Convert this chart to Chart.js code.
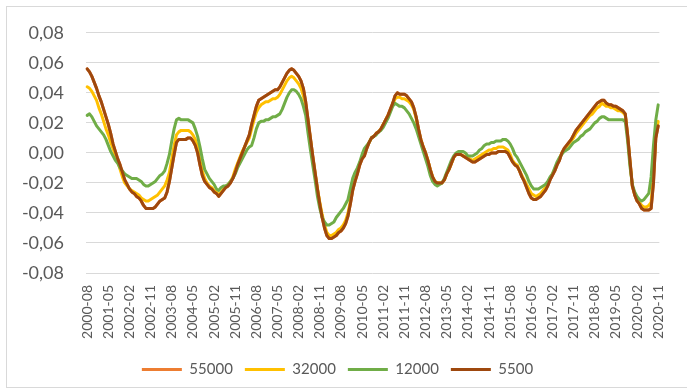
<!DOCTYPE html>
<html>
<head>
<meta charset="utf-8">
<script src="https://cdn.jsdelivr.net/npm/chart.js@4"></script>
<style>
  html, body { margin: 0; padding: 0; background: #ffffff; }
  #wrap { width: 687px; height: 390px; position: relative; }
</style>
</head>
<body>
<div id="wrap"><canvas id="c" width="687" height="390"></canvas></div>
<script>
// Monthly categories, 2000-08 .. 2020-11
const firstYear = 2000, firstMonth = 8, monthCount = 244;
const months = [];
for (let k = 0; k < monthCount; k++) {
  const m = firstMonth - 1 + k;
  const y = firstYear + Math.floor(m / 12);
  const mm = (m % 12) + 1;
  months.push(y + '-' + (mm < 10 ? '0' + mm : mm));
}

// Category labels printed on the horizontal axis (every 9 months)
const tickLabels = [
  '2000-08','2001-05','2002-02','2002-11','2003-08','2004-05','2005-02',
  '2005-11','2006-08','2007-05','2008-02','2008-11','2009-08','2010-05',
  '2011-02','2011-11','2012-08','2013-05','2014-02','2014-11','2015-08',
  '2016-05','2017-02','2017-11','2018-08','2019-05','2020-02','2020-11'
];

// Value axis
const yMin = -0.08, yMax = 0.08, yStep = 0.02;

const seriesNames = ['55000', '32000', '12000', '5500'];
const seriesColors = ['#ED7D31', '#FFC000', '#70AD47', '#9E480E'];

const s55000 = [
  0.056, 0.054, 0.051, 0.047, 0.043, 0.038, 0.034, 0.029, 0.024, 0.019,
  0.013, 0.006, 0.001, -0.004, -0.008, -0.013, -0.018, -0.021, -0.024, -0.026,
  -0.027, -0.029, -0.030, -0.032, -0.035, -0.037, -0.037, -0.037, -0.037, -0.036,
  -0.034, -0.032, -0.031, -0.030, -0.026, -0.019, -0.010, -0.001, 0.007, 0.009,
  0.009, 0.009, 0.009, 0.010, 0.010, 0.008, 0.005, 0.000, -0.008, -0.015,
  -0.019, -0.021, -0.023, -0.024, -0.026, -0.027, -0.029, -0.027, -0.025, -0.023,
  -0.022, -0.020, -0.017, -0.013, -0.008, -0.004, 0.000, 0.004, 0.008, 0.012,
  0.019, 0.025, 0.031, 0.035, 0.036, 0.037, 0.038, 0.039, 0.040, 0.041,
  0.042, 0.042, 0.044, 0.047, 0.050, 0.053, 0.055, 0.056, 0.055, 0.053,
  0.051, 0.048, 0.043, 0.034, 0.022, 0.010, -0.002, -0.013, -0.024, -0.034,
  -0.043, -0.050, -0.055, -0.057, -0.057, -0.056, -0.055, -0.053, -0.052, -0.050,
  -0.047, -0.042, -0.034, -0.025, -0.019, -0.014, -0.008, -0.004, -0.002, 0.003,
  0.007, 0.010, 0.011, 0.013, 0.014, 0.016, 0.019, 0.022, 0.025, 0.029,
  0.033, 0.038, 0.040, 0.039, 0.039, 0.039, 0.038, 0.036, 0.034, 0.030,
  0.024, 0.016, 0.009, 0.004, 0.000, -0.005, -0.011, -0.016, -0.019, -0.020,
  -0.020, -0.020, -0.018, -0.014, -0.011, -0.007, -0.003, -0.001, -0.001, -0.001,
  -0.002, -0.003, -0.004, -0.005, -0.006, -0.006, -0.005, -0.004, -0.003, -0.002,
  -0.001, -0.001, 0.000, 0.000, 0.000, 0.001, 0.001, 0.001, 0.001, 0.000,
  -0.003, -0.006, -0.008, -0.009, -0.012, -0.016, -0.019, -0.023, -0.027, -0.030,
  -0.031, -0.031, -0.030, -0.029, -0.027, -0.025, -0.022, -0.018, -0.015, -0.012,
  -0.008, -0.005, 0.000, 0.003, 0.005, 0.007, 0.009, 0.012, 0.015, 0.017,
  0.019, 0.021, 0.023, 0.025, 0.027, 0.029, 0.031, 0.033, 0.034, 0.035,
  0.035, 0.033, 0.032, 0.032, 0.031, 0.031, 0.030, 0.029, 0.028, 0.026,
  0.012, -0.005, -0.022, -0.028, -0.032, -0.034, -0.037, -0.038, -0.038, -0.038,
  -0.037, -0.020, 0.010, 0.018
];

const s32000 = [
  0.044, 0.043, 0.041, 0.038, 0.035, 0.030, 0.026, 0.021, 0.016, 0.012,
  0.007, 0.003, -0.002, -0.006, -0.011, -0.016, -0.020, -0.022, -0.024, -0.025,
  -0.026, -0.027, -0.028, -0.030, -0.031, -0.032, -0.032, -0.031, -0.030, -0.029,
  -0.028, -0.026, -0.024, -0.022, -0.018, -0.013, -0.004, 0.005, 0.012, 0.014,
  0.015, 0.015, 0.015, 0.015, 0.014, 0.012, 0.009, 0.004, -0.005, -0.012,
  -0.017, -0.020, -0.022, -0.023, -0.025, -0.026, -0.028, -0.026, -0.024, -0.022,
  -0.021, -0.019, -0.016, -0.011, -0.007, -0.003, 0.001, 0.004, 0.007, 0.010,
  0.016, 0.022, 0.027, 0.030, 0.032, 0.033, 0.034, 0.034, 0.035, 0.036,
  0.036, 0.037, 0.039, 0.042, 0.045, 0.048, 0.050, 0.051, 0.050, 0.048,
  0.046, 0.043, 0.038, 0.032, 0.021, 0.009, -0.003, -0.014, -0.024, -0.033,
  -0.041, -0.048, -0.053, -0.055, -0.055, -0.054, -0.053, -0.051, -0.050, -0.048,
  -0.045, -0.040, -0.032, -0.024, -0.018, -0.013, -0.007, -0.003, -0.001, 0.004,
  0.007, 0.010, 0.011, 0.013, 0.014, 0.016, 0.019, 0.022, 0.025, 0.028,
  0.032, 0.036, 0.037, 0.037, 0.036, 0.036, 0.035, 0.034, 0.032, 0.029,
  0.023, 0.015, 0.009, 0.004, 0.000, -0.005, -0.011, -0.016, -0.019, -0.020,
  -0.020, -0.020, -0.018, -0.014, -0.011, -0.007, -0.003, -0.001, -0.001, -0.001,
  -0.002, -0.002, -0.003, -0.004, -0.005, -0.004, -0.003, -0.002, -0.001, 0.000,
  0.001, 0.002, 0.002, 0.003, 0.003, 0.004, 0.004, 0.004, 0.003, 0.002,
  -0.001, -0.005, -0.007, -0.008, -0.012, -0.015, -0.018, -0.021, -0.024, -0.027,
  -0.028, -0.029, -0.028, -0.027, -0.025, -0.023, -0.020, -0.017, -0.014, -0.011,
  -0.007, -0.004, 0.000, 0.002, 0.004, 0.006, 0.008, 0.010, 0.013, 0.015,
  0.017, 0.019, 0.021, 0.023, 0.025, 0.026, 0.028, 0.030, 0.031, 0.033,
  0.032, 0.031, 0.031, 0.030, 0.030, 0.029, 0.028, 0.028, 0.027, 0.025,
  0.011, -0.006, -0.022, -0.027, -0.031, -0.033, -0.035, -0.036, -0.036, -0.035,
  -0.033, -0.014, 0.012, 0.021
];

const s12000 = [
  0.025, 0.026, 0.024, 0.021, 0.018, 0.016, 0.014, 0.012, 0.009, 0.005,
  0.001, -0.002, -0.005, -0.007, -0.010, -0.012, -0.014, -0.015, -0.016, -0.017,
  -0.017, -0.017, -0.018, -0.019, -0.021, -0.022, -0.022, -0.021, -0.020, -0.019,
  -0.017, -0.015, -0.014, -0.012, -0.007, -0.001, 0.008, 0.016, 0.022, 0.023,
  0.022, 0.022, 0.022, 0.022, 0.021, 0.020, 0.016, 0.011, 0.004, -0.004,
  -0.011, -0.014, -0.017, -0.019, -0.021, -0.024, -0.025, -0.023, -0.022, -0.022,
  -0.021, -0.019, -0.017, -0.014, -0.010, -0.007, -0.004, -0.001, 0.002, 0.004,
  0.005, 0.010, 0.016, 0.020, 0.021, 0.021, 0.022, 0.022, 0.023, 0.024,
  0.024, 0.025, 0.026, 0.029, 0.033, 0.037, 0.040, 0.042, 0.042, 0.041,
  0.039, 0.036, 0.031, 0.025, 0.013, 0.002, -0.008, -0.018, -0.029, -0.037,
  -0.043, -0.046, -0.048, -0.048, -0.047, -0.046, -0.043, -0.041, -0.039, -0.037,
  -0.034, -0.031, -0.024, -0.017, -0.013, -0.010, -0.006, -0.001, 0.003, 0.005,
  0.007, 0.010, 0.011, 0.012, 0.014, 0.015, 0.017, 0.020, 0.023, 0.027,
  0.031, 0.033, 0.032, 0.031, 0.031, 0.030, 0.028, 0.026, 0.023, 0.020,
  0.016, 0.011, 0.006, 0.001, -0.004, -0.009, -0.015, -0.019, -0.021, -0.022,
  -0.021, -0.020, -0.017, -0.013, -0.009, -0.005, -0.002, 0.000, 0.001, 0.001,
  0.001, 0.000, -0.002, -0.002, -0.002, -0.001, 0.000, 0.002, 0.003, 0.005,
  0.006, 0.006, 0.007, 0.007, 0.008, 0.008, 0.008, 0.009, 0.009, 0.008,
  0.006, 0.003, -0.001, -0.003, -0.006, -0.009, -0.012, -0.015, -0.019, -0.022,
  -0.024, -0.024, -0.024, -0.023, -0.022, -0.021, -0.019, -0.016, -0.014, -0.010,
  -0.006, -0.003, -0.001, 0.001, 0.002, 0.003, 0.005, 0.007, 0.008, 0.009,
  0.011, 0.012, 0.014, 0.015, 0.016, 0.018, 0.020, 0.021, 0.023, 0.024,
  0.024, 0.023, 0.022, 0.022, 0.022, 0.022, 0.022, 0.022, 0.022, 0.021,
  0.008, -0.009, -0.021, -0.026, -0.029, -0.031, -0.032, -0.031, -0.029, -0.027,
  -0.016, 0.005, 0.022, 0.032
];

const s5500 = [
  0.056, 0.054, 0.051, 0.047, 0.043, 0.038, 0.034, 0.029, 0.024, 0.019,
  0.013, 0.006, 0.001, -0.004, -0.008, -0.013, -0.018, -0.021, -0.024, -0.026,
  -0.027, -0.029, -0.030, -0.032, -0.035, -0.037, -0.037, -0.037, -0.037, -0.036,
  -0.034, -0.032, -0.031, -0.030, -0.026, -0.019, -0.010, -0.001, 0.007, 0.009,
  0.009, 0.009, 0.009, 0.010, 0.010, 0.008, 0.005, 0.000, -0.008, -0.015,
  -0.019, -0.021, -0.023, -0.024, -0.026, -0.027, -0.029, -0.027, -0.025, -0.023,
  -0.022, -0.020, -0.017, -0.013, -0.008, -0.004, 0.000, 0.004, 0.008, 0.012,
  0.019, 0.025, 0.031, 0.035, 0.036, 0.037, 0.038, 0.039, 0.040, 0.041,
  0.042, 0.042, 0.044, 0.047, 0.050, 0.053, 0.055, 0.056, 0.055, 0.053,
  0.051, 0.048, 0.043, 0.034, 0.022, 0.010, -0.002, -0.013, -0.024, -0.034,
  -0.043, -0.050, -0.055, -0.057, -0.057, -0.056, -0.055, -0.053, -0.052, -0.050,
  -0.047, -0.042, -0.034, -0.025, -0.019, -0.014, -0.008, -0.004, -0.002, 0.003,
  0.007, 0.010, 0.011, 0.013, 0.014, 0.016, 0.019, 0.022, 0.025, 0.029,
  0.033, 0.038, 0.040, 0.039, 0.039, 0.039, 0.038, 0.036, 0.034, 0.030,
  0.024, 0.016, 0.009, 0.004, 0.000, -0.005, -0.011, -0.016, -0.019, -0.020,
  -0.020, -0.020, -0.018, -0.014, -0.011, -0.007, -0.003, -0.001, -0.001, -0.001,
  -0.002, -0.003, -0.004, -0.005, -0.006, -0.006, -0.005, -0.004, -0.003, -0.002,
  -0.001, -0.001, 0.000, 0.000, 0.000, 0.001, 0.001, 0.001, 0.001, 0.000,
  -0.003, -0.006, -0.008, -0.009, -0.012, -0.016, -0.019, -0.023, -0.027, -0.030,
  -0.031, -0.031, -0.030, -0.029, -0.027, -0.025, -0.022, -0.018, -0.015, -0.012,
  -0.008, -0.005, 0.000, 0.003, 0.005, 0.007, 0.009, 0.012, 0.015, 0.017,
  0.019, 0.021, 0.023, 0.025, 0.027, 0.029, 0.031, 0.033, 0.034, 0.035,
  0.035, 0.033, 0.032, 0.032, 0.031, 0.031, 0.030, 0.029, 0.028, 0.026,
  0.012, -0.005, -0.022, -0.028, -0.032, -0.034, -0.037, -0.038, -0.038, -0.038,
  -0.037, -0.020, 0.010, 0.018
];

const seriesValues = [s55000, s32000, s12000, s5500];

const TEXT = '#595959';
const GRID = '#d9d9d9';
Chart.defaults.font.family = 'Lato, "Open Sans", sans-serif';
Chart.defaults.color = TEXT;

// White background and thin frame around the whole chart
const framePlugin = {
  id: 'frame',
  beforeDraw(chart) {
    const ctx = chart.ctx;
    ctx.save();
    ctx.fillStyle = '#ffffff';
    ctx.fillRect(0, 0, chart.width, chart.height);
    ctx.strokeStyle = GRID;
    ctx.lineWidth = 1;
    ctx.strokeRect(6.5, 6.5, chart.width + 10, chart.height - 9);
    ctx.restore();
  }
};

function fmtComma(v) {
  if (Math.abs(v) < 1e-9) v = 0;
  return v.toFixed(2).replace('.', ',');
}

const datasets = seriesNames.map((name, k) => ({
  label: name,
  data: seriesValues[k],
  borderColor: seriesColors[k],
  backgroundColor: seriesColors[k],
  borderWidth: 3,
  pointRadius: 0,
  pointHoverRadius: 0,
  tension: 0,
  fill: false,
  borderJoinStyle: 'round',
  borderCapStyle: 'round',
  // later series are painted on top
  order: seriesNames.length - k
}));

new Chart(document.getElementById('c'), {
  type: 'line',
  data: { labels: months, datasets },
  plugins: [framePlugin],
  options: {
    responsive: false,
    animation: false,
    devicePixelRatio: 1,
    layout: { padding: { left: 0, right: 12, top: 28, bottom: 3 } },
    plugins: {
      tooltip: { enabled: false },
      legend: {
        position: 'bottom',
        labels: {
          usePointStyle: true,
          pointStyle: 'line',
          pointStyleWidth: 40,
          padding: 12,
          color: TEXT,
          font: { size: 15 },
          sort: (a, b) => a.datasetIndex - b.datasetIndex
        }
      }
    },
    scales: {
      x: {
        type: 'category',
        offset: true,
        grid: { display: false, drawTicks: false },
        border: { display: false },
        ticks: {
          autoSkip: false,
          minRotation: 90,
          maxRotation: 90,
          padding: 12,
          color: TEXT,
          font: { size: 14 },
          callback: function (val, idx) {
            const lab = months[idx];
            return tickLabels.includes(lab) ? lab : null;
          }
        },
        afterFit: s => { s.height = 77; }
      },
      y: {
        min: yMin,
        max: yMax,
        grid: { color: GRID, lineWidth: 1, drawTicks: false },
        border: { display: false },
        ticks: {
          stepSize: yStep,
          padding: 22,
          color: TEXT,
          font: { size: 18 },
          callback: v => fmtComma(v)
        },
        afterFit: s => { s.width = 86; }
      }
    }
  }
});
</script>
</body>
</html>
